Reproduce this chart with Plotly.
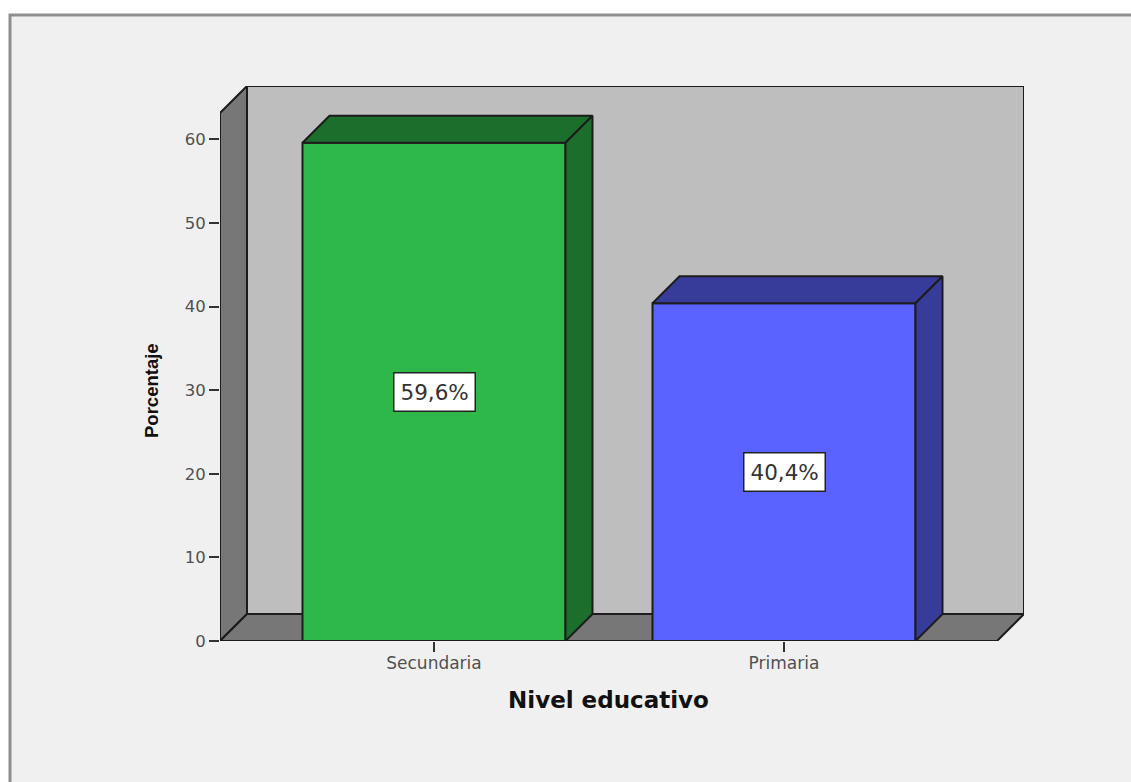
import plotly.graph_objects as go

# Chart data
categories = ["Secundaria", "Primaria"]
percentages = [59.6, 40.4]
value_labels = ["59,6%", "40,4%"]
y_ticks = [0, 10, 20, 30, 40, 50, 60]
front_colors = ["#2EB84A", "#5A62FF"]
shaded_colors = ["#1C6E2C", "#373B99"]

# Figure and plot-area geometry, in pixels
WIDTH, HEIGHT = 1131, 782
LEFT, RIGHT, TOP, BOTTOM = 220, 1024, 86, 641
PX_PER_CATEGORY = 350.0
PX_PER_PERCENT = 8.36
FIRST_CENTER = 434.0
BAR_WIDTH = 263 / PX_PER_CATEGORY

# Oblique depth of the 3D box, in axis units
DX = 27 / PX_PER_CATEGORY
DY = 27 / PX_PER_PERCENT

x_min = (LEFT - FIRST_CENTER) / PX_PER_CATEGORY
x_max = (RIGHT - FIRST_CENTER) / PX_PER_CATEGORY
y_max = (BOTTOM - TOP) / PX_PER_PERCENT
x_front_right = x_max - DX
y_front_top = y_max - DY

OUTLINE = "#1c1c1c"
positions = list(range(len(categories)))


def polygon(points):
    path = "M " + " L ".join(f"{x},{y}" for x, y in points) + " Z"
    return path


def box_face(points, fill):
    return dict(
        type="path", path=polygon(points), xref="x", yref="y", layer="below",
        fillcolor=fill, line=dict(color=OUTLINE, width=2),
    )


def paper_x(px):
    return (px - LEFT) / (RIGHT - LEFT)


def paper_y(px):
    return (BOTTOM - px) / (BOTTOM - TOP)


# Sheet background with its grey frame on the top and left edges
shapes = [
    dict(type="rect", xref="paper", yref="paper", layer="below",
         x0=paper_x(10), x1=paper_x(WIDTH + 10), y0=paper_y(HEIGHT + 10), y1=paper_y(15),
         fillcolor="#F0F0F0", line=dict(color="#8E8E8E", width=3)),
    box_face([(x_min + DX, DY), (x_max, DY), (x_max, y_max), (x_min + DX, y_max)], "#BEBEBE"),
    box_face([(x_min, 0), (x_min + DX, DY), (x_min + DX, y_max), (x_min, y_front_top)], "#777777"),
    box_face([(x_min, 0), (x_front_right, 0), (x_max, DY), (x_min + DX, DY)], "#777777"),
]

fig = go.Figure()

# Front faces of the bars
fig.add_trace(go.Bar(
    x=positions, y=percentages, width=BAR_WIDTH,
    marker=dict(color=front_colors, line=dict(color=OUTLINE, width=2)),
    hoverinfo="skip", showlegend=False,
))

# Top and side faces of the bars, offset by the box depth
for pos, value, shade in zip(positions, percentages, shaded_colors):
    x0 = pos - BAR_WIDTH / 2
    x1 = pos + BAR_WIDTH / 2
    fig.add_trace(go.Scatter(
        x=[x0, x1, x1 + DX, x0 + DX, x0],
        y=[value, value, value + DY, value + DY, value],
        mode="lines", fill="toself", fillcolor=shade,
        line=dict(color=OUTLINE, width=2),
        hoverinfo="skip", showlegend=False,
    ))
    fig.add_trace(go.Scatter(
        x=[x1, x1 + DX, x1 + DX, x1, x1],
        y=[0, DY, value + DY, value, 0],
        mode="lines", fill="toself", fillcolor=shade,
        line=dict(color=OUTLINE, width=2),
        hoverinfo="skip", showlegend=False,
    ))

# Value boxes centred on each bar
annotations = [
    dict(x=pos, y=value / 2, text=label, showarrow=False,
         font=dict(family="DejaVu Sans", size=21.5, color="#333333"),
         bgcolor="#FFFFFF", bordercolor="#222222", borderwidth=1.5, borderpad=6)
    for pos, value, label in zip(positions, percentages, value_labels)
]

# Axis titles sit off-centre from the plot area
annotations += [
    dict(xref="paper", yref="paper", x=paper_x(608), y=paper_y(700), text="<b>Nivel educativo</b>",
         xanchor="center", yanchor="middle", showarrow=False,
         font=dict(family="DejaVu Sans", size=23, color="#111111")),
    dict(xref="paper", yref="paper", x=paper_x(152), y=paper_y(391), text="<b>Porcentaje</b>",
         xanchor="center", yanchor="middle", showarrow=False, textangle=-90,
         font=dict(family="Liberation Sans", size=18.5, color="#111111")),
]

fig.update_layout(
    width=WIDTH, height=HEIGHT,
    margin=dict(l=LEFT, r=WIDTH - RIGHT, t=TOP, b=HEIGHT - BOTTOM, autoexpand=False),
    paper_bgcolor="#FFFFFF", plot_bgcolor="rgba(0,0,0,0)",
    shapes=shapes, annotations=annotations, showlegend=False,
    xaxis=dict(
        range=[x_min, x_max], tickmode="array", tickvals=positions, ticktext=categories,
        ticks="outside", ticklen=10, tickwidth=1.5, tickcolor="#333333",
        tickfont=dict(family="DejaVu Sans", size=17, color="#505050"),
        ticklabelstandoff=-3,
        showgrid=False, zeroline=False, showline=False,
    ),
    yaxis=dict(
        range=[0, y_max], tickmode="array", tickvals=y_ticks,
        ticks="outside", ticklen=10, tickwidth=1.5, tickcolor="#333333",
        tickfont=dict(family="DejaVu Sans", size=16.5, color="#505050"),
        showgrid=False, zeroline=False, showline=False,
    ),
)

fig.write_html("out.html", config=dict(displayModeBar=False))
